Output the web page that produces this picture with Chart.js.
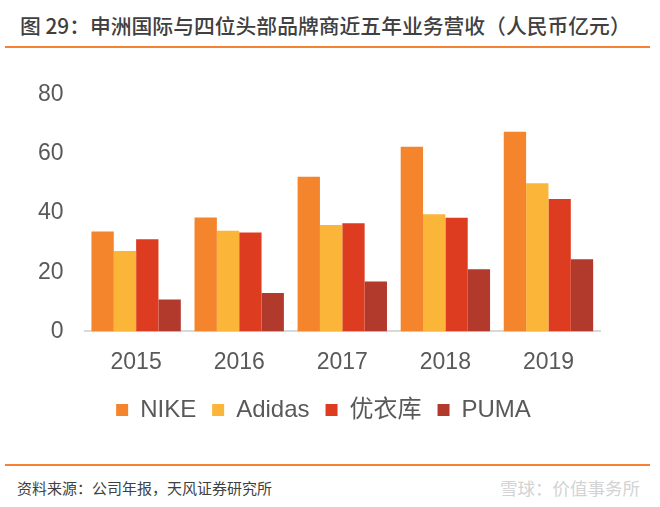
<!DOCTYPE html>
<html>
<head>
<meta charset="utf-8">
<script src="https://cdn.jsdelivr.net/npm/chart.js@4"></script>
<style>
  body { margin: 0; width: 660px; height: 507px; background: #fff; position: relative; overflow: hidden; }
  .title { position: absolute; left: 20px; top: 10px; font: 500 20.8px "Noto Sans CJK SC"; color: #404040; white-space: nowrap; }
  .rule { position: absolute; left: 5px; width: 645px; height: 2px; background: #F58232; }
  .source { position: absolute; left: 17px; top: 477px; font: 15px "Noto Sans CJK SC"; color: #404040; }
  .mark { position: absolute; right: 20px; top: 475px; font: 17.5px "Noto Sans CJK SC"; color: #d3d3d3; }
  #wrap { position: absolute; left: 0; top: 60px; width: 660px; height: 383px; }
</style>
</head>
<body>
<div class="title">图 29：申洲国际与四位头部品牌商近五年业务营收（人民币亿元）</div>
<div class="rule" style="top:46px"></div>
<div id="wrap"><canvas id="barChart"></canvas></div>
<div class="rule" style="top:464px"></div>
<div class="source">资料来源：公司年报，天风证券研究所</div>
<div class="mark">雪球：价值事务所</div>
<script>
// valores
const years = ['2015', '2016', '2017', '2018', '2019'];
const nike = [33.8, 38.5, 52.3, 62.4, 67.5];
const adidas = [27.2, 34.0, 36.0, 39.6, 50.1];
const uniqlo = [31.2, 33.4, 36.6, 38.4, 44.8];
const puma = [10.8, 13.0, 16.9, 21.0, 24.4];
const yTicks = [0, 20, 40, 60, 80];

// move a legenda para a posição do original
const legendShift = {
    id: 'legendShift',
    afterLayout(chart) {
        const lg = chart.legend;
        lg.left += 15; lg.right += 15;
        lg.top -= 11; lg.bottom -= 11;
    }
};

const tickFont = { family: 'Liberation Sans', size: 23 };

const ctx = document.getElementById('barChart').getContext('2d');
const barChart = new Chart(ctx, {
    type: 'bar',
    data: {
        labels: years,
        datasets: [
            { label: 'NIKE', data: nike, backgroundColor: '#F5852D' },
            { label: 'Adidas', data: adidas, backgroundColor: '#FBB63A' },
            { label: '优衣库', data: uniqlo, backgroundColor: '#DD3C20' },
            { label: 'PUMA', data: puma, backgroundColor: '#B23A2D' }
        ]
    },
    plugins: [legendShift],
    options: {
        responsive: true,
        maintainAspectRatio: false,
        animation: false,
        categoryPercentage: 0.867,
        barPercentage: 1,
        layout: { padding: { left: 17, right: 60, top: 18, bottom: 0 } },
        plugins: {
            legend: {
                position: 'bottom',
                labels: {
                    boxWidth: 12,
                    boxHeight: 12,
                    padding: 16,
                    color: '#595959',
                    font: { family: 'Liberation Sans, "Noto Sans CJK SC"', size: 24 }
                }
            },
            tooltip: { enabled: false }
        },
        scales: {
            y: {
                min: 0,
                max: 80,
                afterBuildTicks: axis => { axis.ticks = yTicks.map(v => ({ value: v })); },
                grid: { display: false, drawTicks: false },
                border: { display: false },
                ticks: { padding: 21, color: '#595959', font: tickFont }
            },
            x: {
                grid: { display: false, drawTicks: false },
                border: { display: true, color: '#D9D9D9', width: 2 },
                ticks: { padding: 17, color: '#595959', font: tickFont }
            }
        }
    }
});
</script>
</body>
</html>
